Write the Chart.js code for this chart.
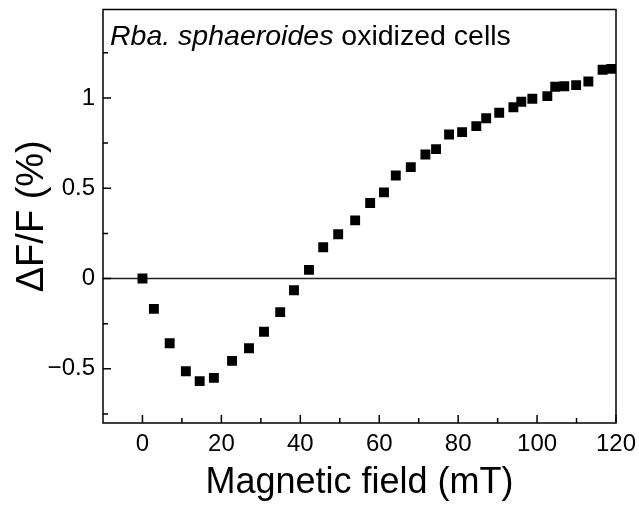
<!DOCTYPE html>
<html><head><meta charset="utf-8">
<script src="https://cdn.jsdelivr.net/npm/chart.js@4/dist/chart.umd.min.js"></script>
<style>html,body{margin:0;padding:0;background:#fff}</style>
</head><body>
<canvas id="c" width="639" height="505" style="width:639px;height:505px;display:block"></canvas>
<script>
const fieldMT = [0, 2.9, 6.9, 11.0, 14.5, 18.1, 22.7, 27.0, 30.8, 34.9, 38.4, 42.2, 45.8, 49.6, 53.9, 57.7, 61.2, 64.2, 68.0, 71.7, 74.4, 77.7, 81.0, 84.6, 87.1, 90.4, 94.0, 96.0, 98.8, 102.6, 104.6, 106.9, 109.9, 113.0, 116.6, 118.8];
const deltaFF = [0, -0.168, -0.358, -0.513, -0.568, -0.55, -0.456, -0.386, -0.295, -0.186, -0.065, 0.048, 0.173, 0.245, 0.322, 0.418, 0.477, 0.571, 0.617, 0.687, 0.717, 0.798, 0.811, 0.844, 0.888, 0.918, 0.949, 0.979, 0.996, 1.01, 1.062, 1.065, 1.071, 1.091, 1.156, 1.161];
const xTickValues = [0, 20, 40, 60, 80, 100, 120];
const xMinorTicks = [10, 30, 50, 70, 90, 110];
const yTickValues = [-0.5, 0, 0.5, 1];
const yMinorTicks = [-0.75, -0.25, 0.25, 0.75, 1.25];
const xRange = [-10, 120];
const yRange = [-0.8, 1.49];
const xTitle = 'Magnetic field (mT)';
const yTitle = 'ΔF/F (%)';
const labelItalic = 'Rba. sphaeroides';
const labelRest = ' oxidized cells';

const FAM = '"Liberation Sans", Arial, Helvetica, sans-serif';

const framePlugin = {
  id: 'frame',
  afterDatasetsDraw(chart) {
    const {ctx, chartArea: a, scales: {x, y}} = chart;
    ctx.save();
    ctx.strokeStyle = '#000';
    ctx.lineWidth = 1.5;
    ctx.strokeRect(a.left, a.top, a.right - a.left, a.bottom - a.top);
    ctx.beginPath();
    xTickValues.forEach(v => { const p = x.getPixelForValue(v); ctx.moveTo(p, a.bottom); ctx.lineTo(p, a.bottom - 8); });
    xMinorTicks.forEach(v => { const p = x.getPixelForValue(v); ctx.moveTo(p, a.bottom); ctx.lineTo(p, a.bottom - 5); });
    yTickValues.forEach(v => { const p = y.getPixelForValue(v); ctx.moveTo(a.left, p); ctx.lineTo(a.left + 8, p); });
    yMinorTicks.forEach(v => { const p = y.getPixelForValue(v); ctx.moveTo(a.left, p); ctx.lineTo(a.left + 5, p); });
    ctx.stroke();
    ctx.fillStyle = '#000';
    ctx.textBaseline = 'alphabetic';
    ctx.textAlign = 'left';
    const tx = a.left + 7, ty = a.top + 35;
    ctx.font = 'italic 28.5px ' + FAM;
    ctx.fillText(labelItalic, tx, ty);
    const w = ctx.measureText(labelItalic).width;
    ctx.font = '28.5px ' + FAM;
    ctx.fillText(labelRest, tx + w, ty);
    ctx.restore();
  }
};

const fmt = v => String(v).replace('-', '\u2212');
const noPad = s => { s.paddingTop = 0; s.paddingBottom = 0; s.paddingLeft = 0; s.paddingRight = 0; };

new Chart(document.getElementById('c'), {
  data: {
    datasets: [
      {
        type: 'scatter',
        data: fieldMT.map((f, i) => ({x: f, y: deltaFF[i]})),
        pointStyle: 'rect',
        pointRadius: 7,
        pointBorderWidth: 0,
        backgroundColor: '#000',
        borderColor: '#000',
        order: 1
      },
      {
        type: 'line',
        data: [{x: xRange[0], y: 0}, {x: xRange[1], y: 0}],
        borderColor: '#222',
        borderWidth: 1.5,
        pointRadius: 0,
        order: 2
      }
    ]
  },
  options: {
    responsive: false,
    animation: false,
    devicePixelRatio: 1,
    layout: {padding: {left: 0, right: 23, top: 9.5, bottom: 0}},
    plugins: {legend: {display: false}, tooltip: {enabled: false}},
    scales: {
      x: {
        type: 'linear', min: xRange[0], max: xRange[1],
        afterBuildTicks: s => { s.ticks = xTickValues.map(v => ({value: v})); },
        afterFit: s => { s.height = 82; noPad(s); },
        grid: {display: false, drawTicks: false},
        border: {display: false},
        ticks: {color: '#000', font: {family: FAM, size: 24}, padding: 7, maxRotation: 0, autoSkip: false, callback: fmt},
        title: {display: true, text: xTitle, color: '#000', font: {family: FAM, size: 36}, padding: {top: 0, bottom: 0}}
      },
      y: {
        type: 'linear', min: yRange[0], max: yRange[1],
        afterBuildTicks: s => { s.ticks = yTickValues.map(v => ({value: v})); },
        afterFit: s => { s.width = 103; noPad(s); },
        grid: {display: false, drawTicks: false},
        border: {display: false},
        ticks: {color: '#000', font: {family: FAM, size: 24}, padding: 8, autoSkip: false, callback: fmt},
        title: {display: true, text: yTitle, color: '#000', font: {family: FAM, size: 38}, padding: {top: 10, bottom: 0}}
      }
    }
  },
  plugins: [framePlugin]
});
</script>
</body></html>
